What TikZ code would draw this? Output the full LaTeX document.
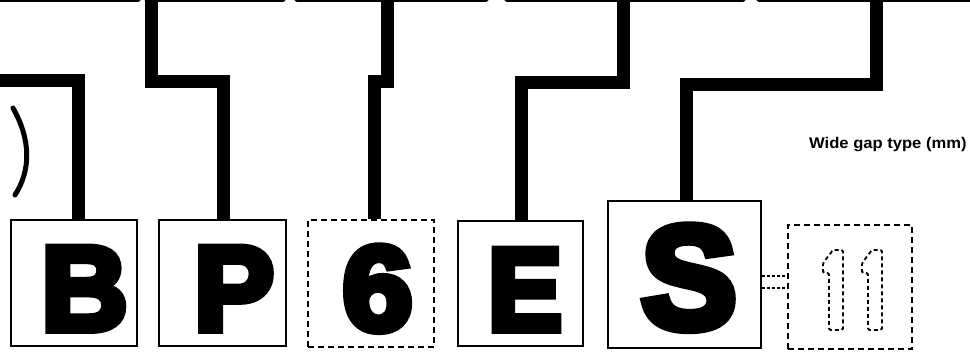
\documentclass[tikz,border=0pt]{standalone}
\usepackage{fontspec}
\usepackage{graphicx}
\newfontfamily\heavy[BoldFeatures={FakeBold=6.5}]{Liberation Sans}
\newfontfamily\lab{Liberation Sans}
\tikzset{
  conn/.style={line width=13pt, black, line join=miter, line cap=butt},
  box/.style={draw, line width=1.8pt, rectangle, inner sep=0pt},
  dbox/.style={box, dash pattern=on 6pt off 4pt},
  letter/.style={inner sep=0pt, anchor=base, text depth=0pt},
  dotline/.style={line width=2pt, dash pattern=on 3pt off 2pt},
  digit/.style={line width=1.8pt, dash pattern=on 4pt off 3pt, rounded corners=1.5pt},
  topedge/.style={line width=1.6pt, rounded corners=2pt},
}
\begin{document}
\begin{tikzpicture}[x=1pt,y=-1pt]
\useasboundingbox (0,0) rectangle (970,352);
\clip (0,0) rectangle (970,352);
% bottoms of the upper boxes
\draw[topedge] (-5,-20) -- (-5,1) -- (140,1) -- (140,-20);
\draw[topedge] (145,-20) -- (145,1) -- (285,1) -- (285,-20);
\draw[topedge] (295,-20) -- (295,1) -- (488,1) -- (488,-20);
\draw[topedge] (505,-20) -- (505,1) -- (745,1) -- (745,-20);
\draw[topedge] (757,-20) -- (757,1) -- (980,1) -- (980,-20);
% boxes
\node[box,  minimum width=126pt, minimum height=126pt] (B)   at (74,283) {};
\node[box,  minimum width=127pt, minimum height=126pt] (P)   at (222.5,283) {};
\node[dbox, minimum width=126pt, minimum height=127pt] (N6)  at (371,283.5) {};
\node[box,  minimum width=125pt, minimum height=125pt] (E)   at (520.5,283.5) {};
\node[box,  minimum width=153pt, minimum height=147pt] (S)   at (684.5,274.5) {};
\node[dbox, minimum width=124pt, minimum height=124pt] (N11) at (850,287) {};
% letters
\node[letter, text height=86pt, font=\heavy\bfseries\fontsize{120}{120}\selectfont] (lB) at (84.5,330) {\scalebox{1.0}[1]{B}};
\node[letter, text height=86pt, font=\heavy\bfseries\fontsize{120}{120}\selectfont] (lP) at (234,330) {\scalebox{1.0}[1]{P}};
\node[letter, text height=88pt, font=\heavy\bfseries\fontsize{120}{120}\selectfont] (l6) at (377.5,330) {\scalebox{1.05}[1]{6}};
\node[letter, text height=84pt, font=\heavy\bfseries\fontsize{117}{117}\selectfont] (lE) at (525,330) {\scalebox{0.95}[1]{E}};
\node[letter, text height=105pt, font=\heavy\bfseries\fontsize{146}{146}\selectfont] (lS) at (689,328) {\scalebox{0.98}[1]{S}};
% outlined 11
\draw[digit] (833,250) -- (843,250) -- (843,330) -- (829,330) -- (829,273) -- (823,273) -- (823,263) -- cycle;
\begin{scope}[xshift=39pt]
\draw[digit] (833,250) -- (843,250) -- (843,330) -- (829,330) -- (829,273) -- (823,273) -- (823,263) -- cycle;
\end{scope}
% dotted links S -- 11
\draw[dotline] (S.east |- 0,276) -- (N11.west |- 0,276);
\draw[dotline] (S.east |- 0,288) -- (N11.west |- 0,288);
% connectors
\coordinate (tB) at (-5,80.5);
\coordinate (tP) at (151.5,-5);
\coordinate (t6) at (387.5,-5);
\coordinate (tE) at (623.5,-5);
\coordinate (tS) at (876.5,-5);
\draw[conn] (tB) -| ([xshift=4pt]B.north);
\draw[conn] (tP) -- (tP |- 0,82) -| ([xshift=1pt]P.north);
\draw[conn] (t6) -- (t6 |- 0,82) -- ([xshift=3.5pt]N6.north |- 0,82) -- ([xshift=3.5pt]N6.north);
\draw[conn] (tE) -- (tE |- 0,83) -| ([xshift=1pt]E.north);
\draw[conn] (tS) -- (tS |- 0,84.5) -| ([xshift=1.5pt]S.north);
% bracket arc
\draw[line width=5pt, line cap=round] (13,108) .. controls (31,140) and (31,170) .. (15,195);
% label
\node[anchor=base west, inner sep=0pt, font=\lab\bfseries\fontsize{15.5}{18}\selectfont] (lbl) at (809,149) {\scalebox{1.07}[1]{Wide gap type (mm)}};
\end{tikzpicture}
\end{document}
